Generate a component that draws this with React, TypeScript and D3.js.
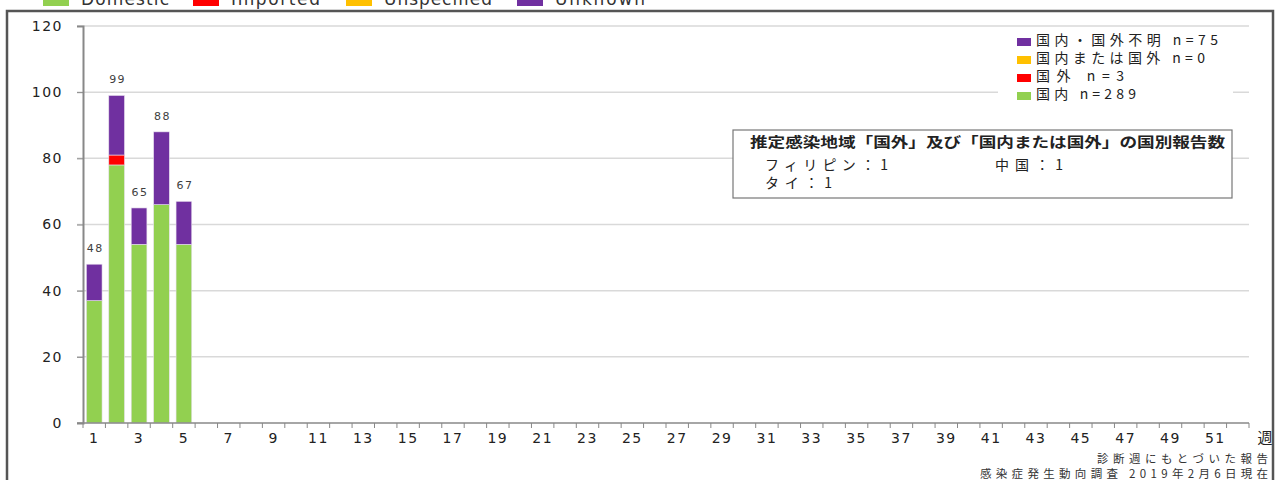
import React, { useEffect, useRef } from 'react';
import * as d3 from 'd3';

const weeks = d3.range(1, 53);
const domestic = [37, 78, 54, 66, 54];
const imported = [0, 3, 0, 0, 0];
const unspecified = [0, 0, 0, 0, 0];
const unknown = [11, 18, 11, 22, 13];
const yTicks = [0, 20, 40, 60, 80, 100, 120];

const seriesKeys = ['domestic', 'imported', 'unspecified', 'unknown'];
const seriesColors = ['#92d050', '#ff0000', '#ffc000', '#7030a0'];
const topLegendLabels = ['Domestic', 'Imported', 'Unspecified', 'Unknown'];
const rightLegendLabels = ['国内 n=289', '国外 n=3', '国内または国外 n=0', '国内・国外不明 n=75'];
const countryTitle = '推定感染地域「国外」及び「国内または国外」の国別報告数';
const countries = ['フィリピン：1', '中国：1', 'タイ：1'];
const footnotes = ['診断週にもとづいた報告', '感染症発生動向調査 2019年2月6日現在'];

const W = 1281;
const H = 480;
const LATIN = '"DejaVu Sans", Verdana, sans-serif';
const JP = '"Noto Sans CJK JP", "DejaVu Sans", sans-serif';

const App: React.FC = () => {
  const svgRef = useRef<SVGSVGElement>(null);

  useEffect(() => {
    const svg = d3.select(svgRef.current);
    svg.selectAll('*').remove();

    const rows = weeks.map((w, i) => ({
      week: w,
      domestic: domestic[i] ?? 0,
      imported: imported[i] ?? 0,
      unspecified: unspecified[i] ?? 0,
      unknown: unknown[i] ?? 0,
    }));
    const total = (r: any) => r.domestic + r.imported + r.unspecified + r.unknown;

    const x = d3.scaleBand<number>().domain(weeks).range([83, 1249]).paddingInner(0.3).paddingOuter(0.15);
    const y = d3.scaleLinear().domain([0, 120]).range([423, 26]);

    // frame
    svg.append('rect')
      .attr('x', 7).attr('y', 11).attr('width', 1266).attr('height', 500)
      .attr('fill', '#fff').attr('stroke', '#555').attr('stroke-width', 2.5);

    // top legend (partly outside the top edge)
    const tl = [43, 193, 346, 517];
    const tlW = [88, 89, 108, 90];
    topLegendLabels.forEach((lab, i) => {
      svg.append('rect').attr('x', tl[i]).attr('y', -12).attr('width', 26).attr('height', 18)
        .attr('fill', seriesColors[i]);
      svg.append('text').attr('x', tl[i] + 38).attr('y', 5)
        .attr('textLength', tlW[i]).attr('lengthAdjust', 'spacing')
        .style('font-family', LATIN).style('font-size', '17px').style('fill', '#333')
        .text(lab);
    });

    // gridlines
    svg.append('g').selectAll('line').data(yTicks.filter(t => t > 0)).join('line')
      .attr('x1', 77).attr('x2', 1249)
      .attr('y1', d => y(d)).attr('y2', d => y(d))
      .attr('stroke', '#d9d9d9').attr('stroke-width', 1.5);

    // y axis
    const yAxis = svg.append('g').attr('transform', 'translate(83,0)')
      .call(d3.axisLeft(y).tickValues(yTicks).tickSize(6).tickPadding(14));
    yAxis.select('.domain').attr('stroke', '#888').attr('stroke-width', 2);
    yAxis.selectAll('.tick line').attr('stroke', '#888');
    yAxis.selectAll('text').style('font-family', LATIN).style('font-size', '14px')
      .style('letter-spacing', '1.5px').style('fill', '#222');

    // stacked bars
    const stack = d3.stack<any>().keys(seriesKeys)(rows as any);
    stack.forEach((layer, si) => {
      svg.append('g').selectAll('rect').data(layer.filter(d => d[1] - d[0] > 0)).join('rect')
        .attr('x', d => x(d.data.week)!)
        .attr('width', x.bandwidth())
        .attr('y', d => y(d[1]))
        .attr('height', d => y(d[0]) - y(d[1]))
        .attr('fill', seriesColors[si])
        .attr('stroke', '#e8e0ee').attr('stroke-width', 0.6);
    });

    // totals
    svg.append('g').selectAll('text').data(rows.filter(r => total(r) > 0)).join('text')
      .attr('x', d => x(d.week)! + x.bandwidth() / 2 + 1)
      .attr('y', d => y(total(d)) - 12)
      .attr('text-anchor', 'middle')
      .style('font-family', LATIN).style('font-size', '11px').style('letter-spacing', '1.5px')
      .style('fill', '#404040')
      .text(d => total(d));

    // x axis
    const xAxis = svg.append('g').attr('transform', `translate(0,${y(0)})`)
      .call(d3.axisBottom(x).tickSize(0).tickPadding(10)
        .tickValues(weeks.filter(w => w % 2 === 1)));
    xAxis.select('.domain').remove();
    xAxis.selectAll('text').style('font-family', LATIN).style('font-size', '14px')
      .style('letter-spacing', '1.5px').style('fill', '#222');
    svg.append('line').attr('x1', 77).attr('x2', 1249).attr('y1', y(0)).attr('y2', y(0))
      .attr('stroke', '#888').attr('stroke-width', 1.5);
    const bounds = weeks.map(w => x(w)! - x.step() * x.paddingInner() / 2).concat([1249]);
    svg.append('g').selectAll('line').data(bounds).join('line')
      .attr('x1', d => d).attr('x2', d => d)
      .attr('y1', y(0)).attr('y2', y(0) + 5)
      .attr('stroke', '#888');
    svg.append('text').attr('x', 1265).attr('y', 443).attr('text-anchor', 'middle')
      .style('font-family', JP).style('font-size', '15px').style('fill', '#222').text('週');

    // right legend
    const lg = svg.append('g');
    lg.append('rect').attr('x', 998).attr('y', 28).attr('width', 235).attr('height', 76).attr('fill', '#fff');
    const legendBase = [99, 81, 63, 45];
    const legendW = [100, 88, 169, 182];
    rightLegendLabels.forEach((lab, i) => {
      lg.append('rect').attr('x', 1017).attr('y', legendBase[i] - 7).attr('width', 14).attr('height', 8)
        .attr('fill', seriesColors[i]);
      lg.append('text').attr('x', 1036).attr('y', legendBase[i])
        .attr('textLength', legendW[i]).attr('lengthAdjust', 'spacing')
        .style('font-family', JP).style('font-size', '14px').style('fill', '#222').text(lab);
    });

    // country box
    const cb = svg.append('g');
    cb.append('rect').attr('x', 733).attr('y', 130).attr('width', 499).attr('height', 68)
      .attr('fill', '#fff').attr('stroke', '#777').attr('stroke-width', 1.2);
    cb.append('text').attr('x', 750).attr('y', 147)
      .attr('textLength', 475).attr('lengthAdjust', 'spacingAndGlyphs')
      .style('font-family', JP).style('font-size', '14px').style('font-weight', 'bold').style('fill', '#222')
      .text(countryTitle);
    const cpos = [[765, 170, 123], [995, 170, 68], [765, 188, 67]];
    countries.forEach((c, i) => {
      cb.append('text').attr('x', cpos[i][0]).attr('y', cpos[i][1])
        .attr('textLength', cpos[i][2]).attr('lengthAdjust', 'spacing')
        .style('font-family', JP).style('font-size', '14px').style('fill', '#222').text(c);
    });

    // footnotes
    const fy = [463, 478];
    const fw = [171, 288];
    footnotes.forEach((f, i) => {
      svg.append('text').attr('x', 1268 - fw[i]).attr('y', fy[i])
        .attr('textLength', fw[i]).attr('lengthAdjust', 'spacing')
        .style('font-family', JP).style('font-size', '11.5px').style('fill', '#333').text(f);
    });
  }, []);

  return (
    <svg ref={svgRef} width={W} height={H}
      style={{ position: 'absolute', left: 0, top: 0, background: '#fff' }} />
  );
};

export default App;
